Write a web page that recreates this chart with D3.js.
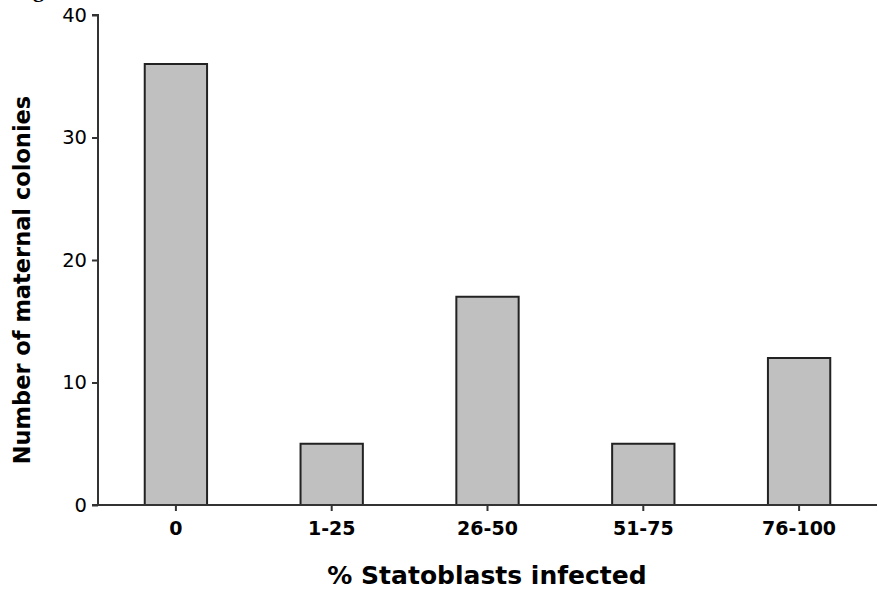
<!DOCTYPE html>
<html><head><meta charset="utf-8">
<script src="https://cdn.jsdelivr.net/npm/d3@7"></script>
<style>
body{margin:0;background:#fff;}
svg{display:block;}
text{font-family:"DejaVu Sans",Verdana,sans-serif;fill:#000;}
</style></head>
<body>
<script>
const categories = ["0","1-25","26-50","51-75","76-100"];
const values = [36,5,17,5,12];
const yTicks = [0,10,20,30,40];
const xTitle = "% Statoblasts infected";
const yTitle = "Number of maternal colonies";

const W = 878, H = 590;
const svg = d3.select("body").append("svg").attr("width",W).attr("height",H);

const x = d3.scaleBand().domain(categories).range([98,877]).paddingInner(0.6).paddingOuter(0.3);
const y = d3.scaleLinear().domain([0,40]).range([505,15]);

// partial cropped caption glyph at the top edge (as in the reference)
svg.append("text").attr("x",33).attr("y",-3)
  .style("font-family","'Liberation Serif',serif").attr("font-size",22).attr("font-weight","bold").text("g");

svg.append("g").selectAll("rect").data(values).join("rect")
  .attr("x",(d,i)=>x(categories[i]))
  .attr("y",d=>y(d))
  .attr("width",x.bandwidth())
  .attr("height",d=>y(0)-y(d))
  .attr("fill","#c0c0c0").attr("stroke","#222").attr("stroke-width",2);

const yAxis = svg.append("g").attr("transform","translate(98,0)")
  .call(d3.axisLeft(y).tickValues(yTicks).tickSize(6).tickPadding(5));
yAxis.selectAll("text").attr("font-size",19.5).style("font-family","'DejaVu Sans',sans-serif");

const xAxis = svg.append("g").attr("transform","translate(0,505)")
  .call(d3.axisBottom(x).tickSize(6).tickSizeOuter(0).tickPadding(11));
xAxis.selectAll("text").attr("font-size",19).attr("font-weight","bold").style("font-family","'DejaVu Sans',sans-serif");

[yAxis,xAxis].forEach(a=>{
  a.select(".domain").attr("stroke","#333").attr("stroke-width",2);
  a.selectAll(".tick line").attr("stroke","#333").attr("stroke-width",2);
});
yAxis.select(".domain").attr("d","M-6,15H0V505");
xAxis.select(".domain").attr("d","M92,0H877");

svg.append("text").attr("x",487).attr("y",584).attr("text-anchor","middle")
  .attr("font-size",25).attr("font-weight","bold").text(xTitle);
svg.append("text").attr("transform","translate(30,280) rotate(-90)").attr("text-anchor","middle")
  .attr("font-size",22.5).attr("font-weight","bold").text(yTitle);
</script>
</body></html>
